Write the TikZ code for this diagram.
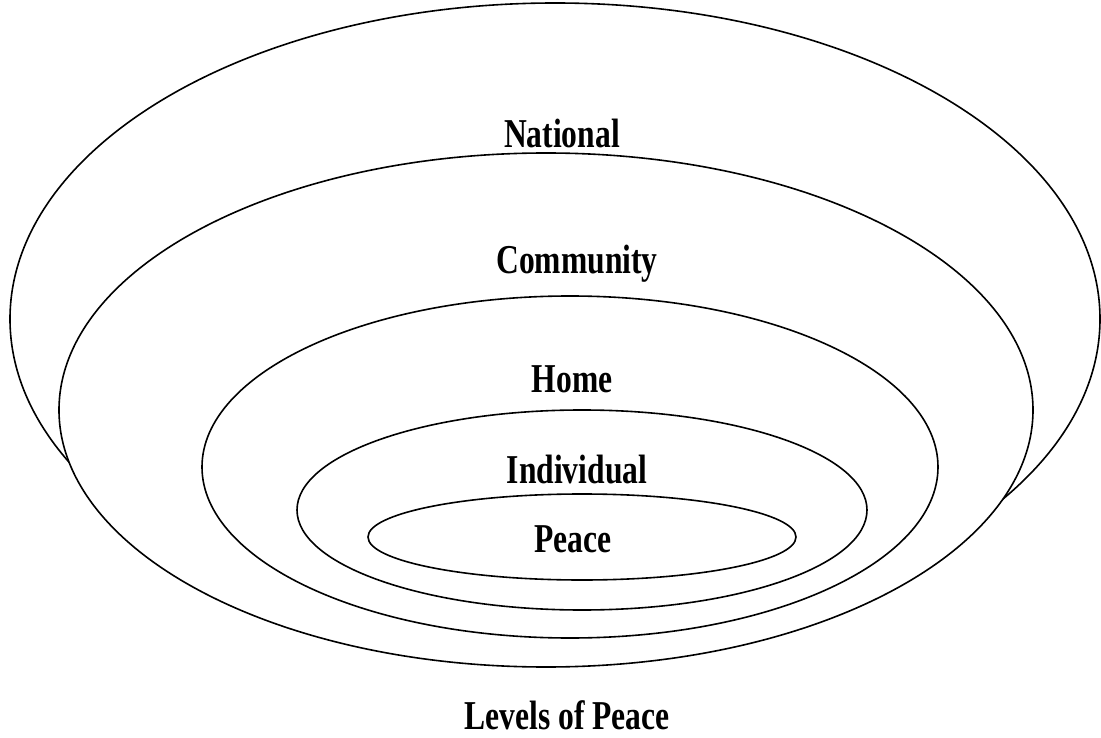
\documentclass[tikz,border=0pt]{standalone}
\usepackage{fontspec}
\setmainfont{Liberation Serif}
\begin{document}
\begin{tikzpicture}[x=1pt,y=-1pt,
  ring/.style={draw=black,fill=white,line width=1.6pt},
  lbl/.style={inner sep=0pt,anchor=base,font=\fontsize{41}{41}\selectfont\bfseries}]
\useasboundingbox (0,0) rectangle (1101,738);
\newcommand{\sq}[1]{\scalebox{0.77}[1]{#1}}
% ellipses, outermost first
\path[ring] (555,319) ellipse [x radius=545, y radius=316];
\path[ring] (546,410) ellipse [x radius=487, y radius=257];
\path[ring] (570,467) ellipse [x radius=368, y radius=171];
\path[ring] (582,510) ellipse [x radius=285, y radius=100];
\path[ring] (582,537) ellipse [x radius=214, y radius=43];
% labels
\node[lbl] (national) at (562,148) {\sq{National}};
\node[lbl] (community) at (577,273) {\sq{Community}};
\node[lbl] (home) at (572,392) {\sq{Home}};
\node[lbl] (individual) at (577,483) {\sq{Individual}};
\node[lbl] (peace) at (573,552) {\sq{Peace}};
\node[lbl] (title) at (567,729) {\sq{Levels of Peace}};
\end{tikzpicture}
\end{document}
